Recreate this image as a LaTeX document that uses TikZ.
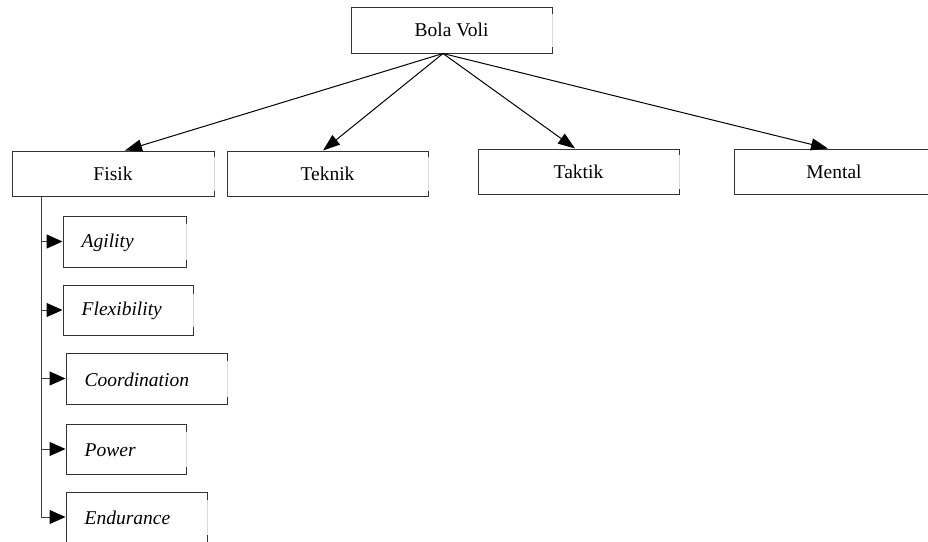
\documentclass[tikz,border=0pt]{standalone}
\usepackage{fontspec}
\setmainfont{Liberation Serif}
\usetikzlibrary{arrows.meta}

\tikzset{
  box/.style={draw=black!80, line width=1pt, inner sep=0pt, fill=white,
    font=\fontsize{19.5}{23}\selectfont},
  subtext/.style={anchor=west, inner sep=0pt,
    font=\fontsize{19.5}{23}\selectfont\itshape},
  link/.style={line width=1pt, -{Triangle[length=17pt,width=12pt]}},
  sublink/.style={line width=1pt, black!75, -{Triangle[length=16pt,width=14pt,fill=black,color=black]}},
  faintedge/.style={white!70!gray, line width=1pt},
}

\begin{document}
\begin{tikzpicture}[x=1pt,y=-1pt]
  \useasboundingbox (0,0) rectangle (928,541);

  % root
  \node[box, minimum width=201pt, minimum height=45.5pt] (bola) at (451.5,30.25) {Bola Voli};

  % second level
  \node[box, minimum width=202pt, minimum height=45pt] (fisik)  at (113,173.5)  {Fisik};
  \node[box, minimum width=201pt, minimum height=45pt] (teknik) at (327.5,173.5) {Teknik};
  \node[box, minimum width=201pt, minimum height=45pt] (taktik) at (578.5,171.5) {Taktik};
  \node[box, minimum width=200pt, minimum height=45pt] (mental) at (834,171.5)  {Mental};

  % components of Fisik
  \node[box, minimum width=123pt, minimum height=51pt] (agility)      at (124.5,241.5) {};
  \node[box, minimum width=130pt, minimum height=50pt] (flexibility)  at (128,310)     {};
  \node[box, minimum width=161pt, minimum height=51pt] (coordination) at (146.5,378.5) {};
  \node[box, minimum width=120pt, minimum height=50pt] (power)        at (126,449)     {};
  \node[box, minimum width=141pt, minimum height=50pt] (endurance)    at (136.5,517)   {};

  \node[subtext] (tagility)      at ([xshift=19pt,yshift=-1.5pt]agility.west)      {Agility};
  \node[subtext] (tflexibility)  at ([xshift=19pt,yshift=-1pt]flexibility.west)    {Flexibility};
  \node[subtext] (tcoordination) at ([xshift=19pt,yshift=-1pt]coordination.west)  {Coordination};
  \node[subtext] (tpower)        at ([xshift=19pt,yshift=-1.5pt]power.west)        {Power};
  \node[subtext] (tendurance)    at ([xshift=19pt,yshift=-1pt]endurance.west)      {Endurance};

  % right edges: only short dark stubs at the corners
  \foreach \n/\s in {bola/7,fisik/6,teknik/6,taktik/6,agility/8,flexibility/9,coordination/8,power/8,endurance/8}{
    \draw[faintedge] ([yshift=-\s pt]\n.north east) -- ([yshift=\s pt]\n.south east);
  }

  % connectors from the root
  \coordinate (fan) at ([xshift=-8.5pt]bola.south);
  \draw[link] (fan) -- ([xshift=12pt]fisik.north);
  \draw[link] (fan) -- ([xshift=-4.5pt]teknik.north);
  \draw[link] (fan) -- ([xshift=-3.5pt]taktik.north);
  \draw[link] (fan) -- ([xshift=-6pt]mental.north);

  % trunk under Fisik
  \coordinate (trunktop) at ([xshift=-72pt]fisik.south);
  \coordinate (trunkend) at (trunktop |- endurance.west);
  \draw[line width=1pt, black!75] (trunktop) -- (trunkend);
  \foreach \n in {agility,flexibility,coordination,power,endurance}{
    \draw[sublink] (trunktop |- \n.west) -- (\n.west);
  }
\end{tikzpicture}
\end{document}
